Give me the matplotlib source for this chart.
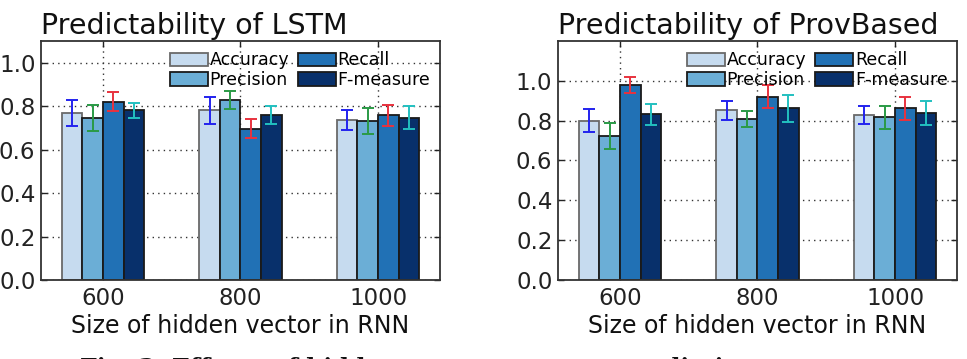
import numpy as np
import matplotlib
matplotlib.use('Agg')
import matplotlib.pyplot as plt

sizes = ['600', '800', '1000']
metrics = ['Accuracy', 'Precision', 'Recall', 'F-measure']

# LSTM
lstm_acc = [0.768, 0.780, 0.737]
lstm_prec = [0.746, 0.829, 0.731]
lstm_rec = [0.821, 0.697, 0.758]
lstm_f = [0.780, 0.758, 0.746]
lstm_acc_err = [0.059, 0.060, 0.045]
lstm_prec_err = [0.060, 0.042, 0.061]
lstm_rec_err = [0.044, 0.045, 0.049]
lstm_f_err = [0.035, 0.041, 0.053]

# ProvBased
prov_acc = [0.799, 0.851, 0.829]
prov_prec = [0.722, 0.808, 0.816]
prov_rec = [0.980, 0.921, 0.861]
prov_f = [0.831, 0.861, 0.836]
prov_acc_err = [0.058, 0.047, 0.045]
prov_prec_err = [0.064, 0.040, 0.057]
prov_rec_err = [0.039, 0.060, 0.058]
prov_f_err = [0.053, 0.068, 0.060]

bar_colors = ['#c6dbef', '#6baed6', '#2171b5', '#08306b']
edge_colors = ['#6a6a6a', '#1a1a1a', '#1a1a1a', '#1a1a1a']
err_colors = ['#2222ee', '#2a9a45', '#e8323e', '#22c0c0']

plt.rcParams['font.family'] = 'DejaVu Sans'

fig = plt.figure(figsize=(9.67, 3.59), dpi=100)
ax1 = fig.add_axes([0.0424, 0.220, 0.4126, 0.666])
ax2 = fig.add_axes([0.5770, 0.220, 0.4127, 0.666])


def draw(ax, vals, errs, title, top):
    x = np.arange(len(sizes))
    w = 0.15
    for i in range(4):
        ax.bar(x + (i - 1.5) * w, vals[i], w, color=bar_colors[i],
               edgecolor=edge_colors[i], linewidth=1.3, label=metrics[i], zorder=2)
        ax.errorbar(x + (i - 1.5) * w, vals[i], yerr=errs[i], fmt='none',
                    ecolor=err_colors[i], elinewidth=1.4, capsize=4,
                    capthick=1.4, zorder=3)
    ax.set_xlim(-0.45, 2.45)
    ax.set_ylim(0, top)
    ax.set_xticks(x)
    ax.set_xticklabels(sizes)
    ax.set_yticks([0.0, 0.2, 0.4, 0.6, 0.8, 1.0])
    ax.set_yticklabels(['0.0', '0.2', '0.4', '0.6', '0.8', '1.0'])
    ax.tick_params(direction='in', length=4, width=1, labelsize=16.5, pad=5,
                   top=True, right=True, colors='#222222')
    ax.tick_params(axis='y', pad=4)
    ax.grid(True, linestyle=(0, (1, 3)), color='#333333', linewidth=1)
    ax.set_axisbelow(True)
    for s in ax.spines.values():
        s.set_linewidth(1.3)
        s.set_color('#333333')
    ax.set_title(title, loc='left', fontsize=20.5, pad=5, color='#111111')
    ax.set_xlabel('Size of hidden vector in RNN', fontsize=17, labelpad=3,
                  color='#111111')
    ax.legend(ncol=2, loc='upper right', bbox_to_anchor=(0.987, 0.975),
              frameon=False, fontsize=12.5, handlelength=2.2, handleheight=0.8,
              handletextpad=0.1, columnspacing=0.5, labelspacing=0.1,
              borderaxespad=0.15, borderpad=0.1)


draw(ax1, [lstm_acc, lstm_prec, lstm_rec, lstm_f],
     [lstm_acc_err, lstm_prec_err, lstm_rec_err, lstm_f_err],
     'Predictability of LSTM', 1.1)
draw(ax2, [prov_acc, prov_prec, prov_rec, prov_f],
     [prov_acc_err, prov_prec_err, prov_rec_err, prov_f_err],
     'Predictability of ProvBased', 1.2)

fig.text(0.083, 0.006, 'Fig. 3: Effects of hidden vector space on predictive power',
         fontsize=17, fontweight='bold', family='DejaVu Serif', va='top',
         ha='left', color='#111111')

fig.savefig('out.png', dpi=100)
